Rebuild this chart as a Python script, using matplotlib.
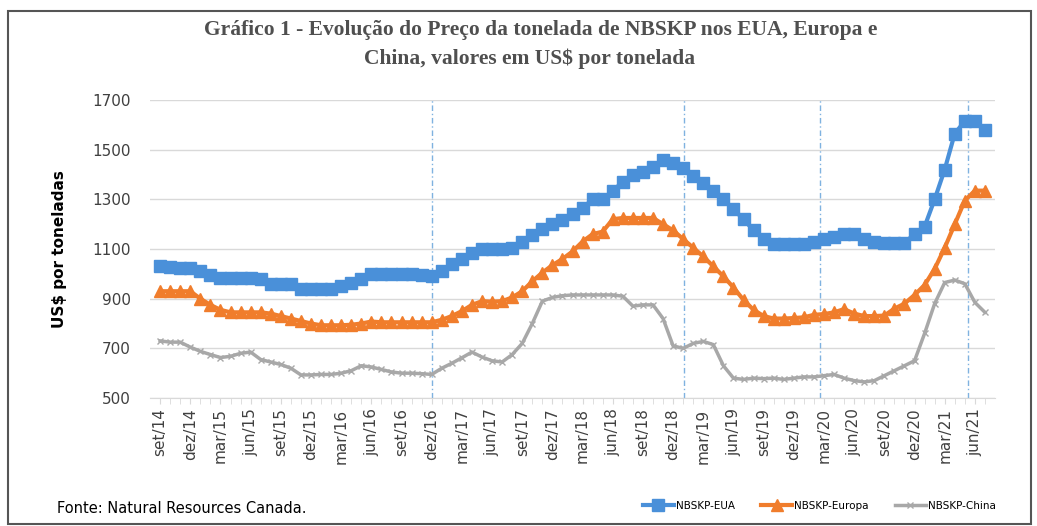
import numpy as np
import matplotlib.pyplot as plt
from matplotlib.patches import Rectangle

# meses de set/14 a jul/21
meses = ['set', 'out', 'nov', 'dez', 'jan', 'fev', 'mar', 'abr', 'mai', 'jun', 'jul', 'ago']
n_pontos = 83
rotulos = []
for i in range(n_pontos):
    m = meses[i % 12]
    ano = 14 + (i + 8) // 12
    rotulos.append(f'{m}/{ano}')

eua = [1030, 1028, 1025, 1025, 1010, 995, 983, 983, 983, 983,
       980, 960, 960, 960, 940, 940, 940, 940, 950, 965,
       980, 1000, 1000, 1000, 1000, 998, 995, 990, 1010, 1040,
       1060, 1085, 1100, 1100, 1100, 1105, 1130, 1155, 1180, 1200,
       1215, 1240, 1265, 1300, 1300, 1335, 1370, 1400, 1410, 1430,
       1460, 1448, 1428, 1395, 1365, 1335, 1300, 1260, 1220, 1175,
       1140, 1122, 1120, 1120, 1122, 1130, 1140, 1150, 1160, 1160,
       1140, 1128, 1125, 1125, 1125, 1160, 1190, 1300, 1420, 1565,
       1615, 1615, 1580]

europa = [930, 930, 930, 930, 900, 875, 855, 845, 845, 845,
          845, 840, 830, 820, 810, 800, 793, 793, 793, 795,
          800, 808, 805, 805, 805, 805, 805, 805, 815, 830,
          850, 875, 890, 888, 890, 905, 930, 970, 1005, 1035,
          1060, 1090, 1130, 1160, 1170, 1220, 1225, 1225, 1225, 1225,
          1200, 1175, 1140, 1105, 1070, 1030, 990, 945, 895, 855,
          830, 820, 820, 822, 825, 835, 838, 845, 858, 840,
          830, 830, 832, 860, 880, 915, 955, 1020, 1105, 1200,
          1295, 1335, 1335]

china = [730, 725, 725, 705, 688, 675, 663, 668, 680, 685,
         655, 645, 635, 620, 593, 593, 595, 595, 600, 610,
         630, 625, 615, 605, 600, 600, 598, 595, 620, 640,
         662, 685, 665, 650, 645, 675, 720, 800, 890, 905,
         912, 915, 915, 915, 915, 915, 910, 870, 875, 875,
         820, 710, 700, 720, 728, 715, 630, 580, 575, 580,
         578, 580, 575, 580, 585, 585, 590, 595, 580, 570,
         565, 570, 590, 610, 630, 650, 760, 880, 965, 975,
         960, 885, 845]

linhas_verticais = [27, 52.1, 65.6, 80.3]

x = np.arange(n_pontos)

fig = plt.figure(figsize=(10.37, 5.26), dpi=100)
ax = fig.add_axes([0.1447, 0.2433, 0.8148, 0.5666])

ax.plot(x, eua, color='#4A90D9', lw=3, marker='s', ms=9, label='NBSKP-EUA', zorder=4)
ax.plot(x, europa, color='#F07D2C', lw=3, marker='^', ms=8, label='NBSKP-Europa', zorder=3)
ax.plot(x, china, color='#A8A8A8', lw=2.5, marker='x', ms=4, mew=1, label='NBSKP-China', zorder=2)

for xv in linhas_verticais:
    ax.axvline(xv, color='#7FB2E0', lw=1, ls=(0, (4, 2, 1, 2)), zorder=1)

ax.set_ylim(500, 1700)
ax.set_xlim(-1, 83)
ax.set_yticks(range(500, 1701, 200))
ax.yaxis.grid(True, color='#D9D9D9', lw=1)
ax.set_axisbelow(True)
ax.set_xticks(x[::3])
ax.set_xticklabels(rotulos[::3], rotation=90, fontsize=11, color='#404040')
ax.set_xticks(x, minor=True)
ax.tick_params(axis='x', which='both', length=4, color='#D9D9D9')
ax.tick_params(axis='y', length=0, labelsize=11, colors='#404040', pad=14)
for s in ['top', 'right', 'left']:
    ax.spines[s].set_visible(False)
ax.spines['bottom'].set_color('#D9D9D9')

ax.set_ylabel('US$ por toneladas', fontsize=11, fontweight='bold', labelpad=18)

fig.text(0.521, 0.943, 'Gráfico 1 - Evolução do Preço da tonelada de NBSKP nos EUA, Europa e',
         ha='center', va='center', fontsize=15.5, fontweight='bold',
         family='Liberation Serif', color='#4F4F4F')
fig.text(0.511, 0.889, 'China, valores em US$ por tonelada',
         ha='center', va='center', fontsize=15.5, fontweight='bold',
         family='Liberation Serif', color='#4F4F4F')

fig.text(0.055, 0.034, 'Fonte: Natural Resources Canada.', fontsize=10.5,
         family=['Liberation Sans Narrow', 'DejaVu Sans'], va='center')

fig.legend(loc='center', bbox_to_anchor=(0.79, 0.038), ncol=3, frameon=False,
           handlelength=3, columnspacing=2.5, handletextpad=0.2,
           prop={'family': ['Liberation Sans Narrow', 'DejaVu Sans'], 'size': 7.5})

fig.patches.append(Rectangle((0.008, 0.004), 0.986, 0.976, transform=fig.transFigure,
                             fill=False, edgecolor='#555555', lw=1.5))

fig.savefig('out.png', dpi=100)
